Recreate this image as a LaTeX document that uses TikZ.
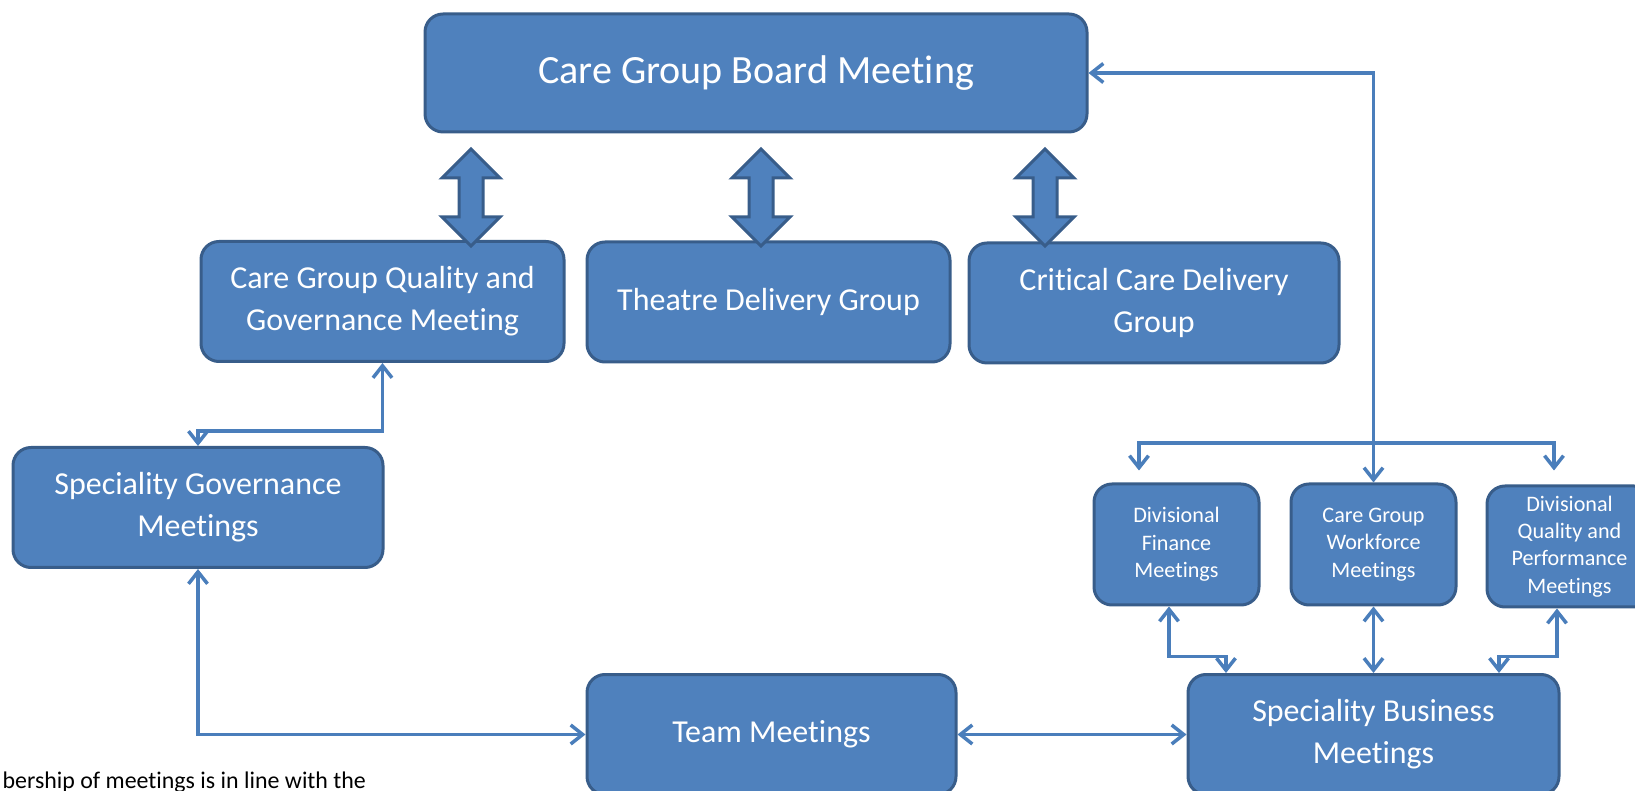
\documentclass[tikz,border=0pt]{standalone}
\usepackage{fontspec}
\setmainfont{Carlito}[Ligatures=NoCommon]
\usetikzlibrary{arrows.meta}
\usepackage{xcolor}
\definecolor{CGBlue}{RGB}{79,129,189}
\definecolor{CGDarkBlue}{RGB}{56,93,138}
\definecolor{CGLineBlue}{RGB}{74,126,187}

\begin{document}
\begin{tikzpicture}[
x=0.1mm,y=0.1mm,
>={Straight Barb[length=1.2mm,width=1.9mm]},
box/.style={rectangle,rounded corners=1.8mm,draw=CGDarkBlue,line width=0.3mm,fill=CGBlue,
text=white,align=center,inner sep=0pt},
big/.style={box,font=\fontsize{11.4}{13.7}\selectfont},
mid/.style={box,font=\fontsize{9.1}{11.9}\selectfont,minimum height=12mm},
small/.style={box,font=\fontsize{6.3}{7.8}\selectfont,minimum width=16.5mm,minimum height=12.1mm},
arrow/.style={line width=0.35mm,draw=CGLineBlue},
fat/.style={draw=CGDarkBlue,line width=0.3mm,fill=CGBlue,line join=miter}
]
\useasboundingbox (0,0) rectangle (1635,790);
\clip (0,0) rectangle (1635,790);

\node[big,minimum width=66.2mm,minimum height=11.8mm] (board) at (756,717) {Care Group Board Meeting};
\node[mid,minimum width=36.3mm] (quality) at (382.5,488.5) {Care Group Quality and\\Governance Meeting};
\node[mid,minimum width=36.3mm] (theatre) at (768.5,488) {Theatre Delivery Group};
\node[mid,minimum width=37mm] (critical) at (1154,487) {Critical Care Delivery\\Group};
\node[mid,minimum width=37mm] (specgov) at (198,282.5) {Speciality Governance\\Meetings};
\node[small] (finance) at (1176.5,245.5) {Divisional\\Finance\\Meetings};
\node[small] (workforce) at (1373.5,245.5) {Care Group\\Workforce\\Meetings};
\node[small] (divqual) at (1569.5,243.5) {Divisional\\Quality and\\Performance\\Meetings};
\node[mid,minimum width=36.9mm] (team) at (771.5,55.5) {Team Meetings};
\node[mid,minimum width=37.1mm] (specbus) at (1373.5,55.5) {Speciality Business\\Meetings};
\node[anchor=base west,inner sep=0pt,font=\fontsize{6.8}{8}\selectfont] (note) at (2,2) {bership of meetings is in line with the};

\foreach \x in {471,761,1045}
  \draw[fat] (\x,641) -- ++(29,-29) -- ++(-17,0) -- ++(0,-39) -- ++(17,0) -- (\x,544)
    -- ++(-29,29) -- ++(17,0) -- ++(0,39) -- ++(-17,0) -- cycle;

\draw[arrow,<->] (board.east) -| (workforce.north);
\coordinate (split) at (workforce.north |- 0,347);
\draw[arrow,->,shorten >=1.2mm] (split) -| ([xshift=-3.75mm]finance.north);
\draw[arrow,->,shorten >=1.4mm] (split) -| ([xshift=-1.55mm]divqual.north);
\draw[arrow,<->] (quality.south) -- ++(0,-68) -| (specgov.north);
\draw[arrow,<->] (specgov.south) |- (team.west);
\draw[arrow,<->] (team.east) -- (specbus.west);
\draw[arrow,<->] ([xshift=-0.75mm]finance.south) -- ++(0,-50) -| ([xshift=-14.75mm]specbus.north);
\draw[arrow,<->] (workforce.south) -- (specbus.north);
\draw[arrow,<->] ([xshift=-1.25mm]divqual.south) -- ++(0,-48) -| ([xshift=12.55mm]specbus.north);
\end{tikzpicture}
\end{document}
